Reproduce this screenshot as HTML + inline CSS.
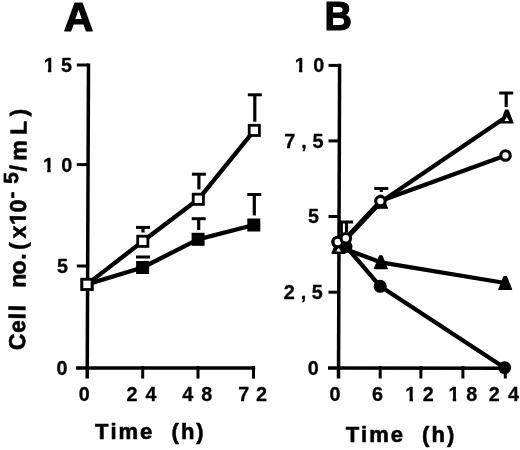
<!DOCTYPE html>
<html><head><meta charset="utf-8"><style>
html,body{margin:0;padding:0;background:#fff;}
svg{display:block;will-change:transform;}
text{font-family:"Liberation Sans",sans-serif;font-weight:bold;fill:#000;stroke:#000;stroke-width:0.6px;stroke-linejoin:round;}
.big{stroke-width:1.2px;}
.tl{stroke-width:0.3px;}
</style></head><body>
<svg width="520" height="450" viewBox="0 0 520 450">
<rect width="520" height="450" fill="#fff"/>
<g stroke="#000" stroke-linecap="butt" fill="none">
<line x1="88.5" y1="63.5" x2="87.2" y2="378.5" stroke-width="3.5"/>
<line x1="76.0" y1="368.1" x2="255.2" y2="367.9" stroke-width="3.5"/>
<line x1="76.8" y1="65.0" x2="88.5" y2="65.0" stroke-width="3.0"/>
<line x1="76.8" y1="164.6" x2="88.5" y2="164.6" stroke-width="3.0"/>
<line x1="76.8" y1="266.0" x2="88.5" y2="266.0" stroke-width="3.0"/>
<line x1="142.7" y1="366" x2="142.7" y2="378.6" stroke-width="3.0"/>
<line x1="198.0" y1="366" x2="198.0" y2="378.6" stroke-width="3.0"/>
<line x1="253.5" y1="366" x2="253.5" y2="378.6" stroke-width="3.0"/>
<line x1="339.6" y1="63.8" x2="338.5" y2="378.4" stroke-width="3.5"/>
<line x1="328.0" y1="367.9" x2="505.5" y2="368.2" stroke-width="3.5"/>
<line x1="328.5" y1="65.4" x2="339.5" y2="65.4" stroke-width="3.0"/>
<line x1="328.5" y1="140.9" x2="339.5" y2="140.9" stroke-width="3.0"/>
<line x1="328.5" y1="216.5" x2="339.5" y2="216.5" stroke-width="3.0"/>
<line x1="328.5" y1="292.2" x2="339.5" y2="292.2" stroke-width="3.0"/>
<line x1="380.2" y1="366" x2="380.2" y2="378.5" stroke-width="3.0"/>
<line x1="420.9" y1="366" x2="420.9" y2="378.5" stroke-width="3.0"/>
<line x1="462.9" y1="366" x2="462.9" y2="378.5" stroke-width="3.0"/>
<line x1="505.3" y1="366" x2="505.3" y2="378.5" stroke-width="3.0"/>
<polyline points="87.0,284.4 142.8,241.3 198.3,199.3 254.3,130.4" fill="none" stroke-width="4.3" stroke-linejoin="round"/>
<polyline points="87.0,284.4 142.6,267.5 198.1,239.3 253.8,225.0" fill="none" stroke-width="4.3" stroke-linejoin="round"/>
<polyline points="337.8,242.0 345.8,238.3 380.4,201.1 505.5,155.5" fill="none" stroke-width="4.3" stroke-linejoin="round"/>
<polyline points="338.6,247.1 381.2,201.8 506.8,116.5" fill="none" stroke-width="4.3" stroke-linejoin="round"/>
<polyline points="338.5,246.6 380.8,262.3 505.2,283.0" fill="none" stroke-width="4.3" stroke-linejoin="round"/>
<polyline points="337.8,242.2 346.0,246.5 380.2,286.3 504.6,367.7" fill="none" stroke-width="4.3" stroke-linejoin="round"/>
<line x1="136.0" y1="227.4" x2="150.0" y2="227.4" stroke-width="3.0"/>
<line x1="143.0" y1="227.4" x2="143.0" y2="232.5" stroke-width="3.2"/>
<line x1="136.0" y1="257.0" x2="150.0" y2="257.0" stroke-width="3.0"/>
<line x1="191.9" y1="174.2" x2="205.9" y2="174.2" stroke-width="3.0"/>
<line x1="198.9" y1="174.2" x2="198.9" y2="189.4" stroke-width="3.2"/>
<line x1="191.7" y1="218.7" x2="205.7" y2="218.7" stroke-width="3.0"/>
<line x1="198.7" y1="218.7" x2="198.7" y2="230.0" stroke-width="3.2"/>
<line x1="247.8" y1="94.8" x2="261.8" y2="94.8" stroke-width="3.0"/>
<line x1="254.8" y1="94.8" x2="254.8" y2="121.7" stroke-width="3.2"/>
<line x1="247.3" y1="194.5" x2="261.3" y2="194.5" stroke-width="3.0"/>
<line x1="254.3" y1="194.5" x2="254.3" y2="215.4" stroke-width="3.2"/>
<line x1="499.2" y1="93.0" x2="513.2" y2="93.0" stroke-width="3.0"/>
<line x1="506.2" y1="93.0" x2="506.2" y2="107.0" stroke-width="3.2"/>
<line x1="374.3" y1="188.5" x2="388.3" y2="188.5" stroke-width="3.0"/>
<line x1="381.3" y1="188.5" x2="381.3" y2="192.0" stroke-width="3.2"/>
<line x1="339.9" y1="222.0" x2="353.1" y2="222.0" stroke-width="3.0"/>
<line x1="346.5" y1="222.0" x2="346.5" y2="232.0" stroke-width="3.2"/>
<line x1="341.6" y1="222" x2="341.6" y2="236" stroke-width="2.6"/>
<rect x="80.50" y="277.90" width="13.0" height="13.0" fill="#000" stroke="none"/>
<rect x="136.10" y="261.00" width="13.0" height="13.0" fill="#000" stroke="none"/>
<rect x="191.60" y="232.80" width="13.0" height="13.0" fill="#000" stroke="none"/>
<rect x="247.30" y="218.50" width="13.0" height="13.0" fill="#000" stroke="none"/>
<rect x="81.90" y="279.30" width="10.20" height="10.20" fill="#fff" stroke-width="2.8"/>
<rect x="137.70" y="236.20" width="10.20" height="10.20" fill="#fff" stroke-width="2.8"/>
<rect x="193.20" y="194.20" width="10.20" height="10.20" fill="#fff" stroke-width="2.8"/>
<rect x="249.20" y="125.30" width="10.20" height="10.20" fill="#fff" stroke-width="2.8"/>
<polygon points="332.10,253.00 344.90,253.00 339.80,240.20 337.20,240.20" fill="#000" stroke="#000" stroke-width="1.2" stroke-linejoin="round"/>
<circle cx="337.8" cy="242.2" r="6.5" fill="#000" stroke="none"/>
<circle cx="346.0" cy="246.5" r="6.5" fill="#000" stroke="none"/>
<polygon points="374.40,268.70 387.20,268.70 382.10,255.90 379.50,255.90" fill="#000" stroke="#000" stroke-width="1.2" stroke-linejoin="round"/>
<polygon points="498.80,289.40 511.60,289.40 506.50,276.60 503.90,276.60" fill="#000" stroke="#000" stroke-width="1.2" stroke-linejoin="round"/>
<circle cx="380.2" cy="286.3" r="6.5" fill="#000" stroke="none"/>
<circle cx="504.6" cy="367.7" r="6.5" fill="#000" stroke="none"/>
<polygon points="332.40,253.50 344.80,253.50 339.90,240.70 337.30,240.70" fill="#000" stroke="#000" stroke-width="1.2" stroke-linejoin="round"/>
<polygon points="336.20,251.50 341.00,251.50 338.60,247.50" fill="#fff" stroke="none"/>
<polygon points="375.00,208.20 387.40,208.20 382.50,195.40 379.90,195.40" fill="#000" stroke="#000" stroke-width="1.2" stroke-linejoin="round"/>
<polygon points="378.80,206.20 383.60,206.20 381.20,202.20" fill="#fff" stroke="none"/>
<polygon points="500.60,122.90 513.00,122.90 508.10,110.10 505.50,110.10" fill="#000" stroke="#000" stroke-width="1.2" stroke-linejoin="round"/>
<polygon points="504.40,120.90 509.20,120.90 506.80,116.90" fill="#fff" stroke="none"/>
<circle cx="337.8" cy="242.0" r="4.75" fill="#fff" stroke-width="3.1"/>
<circle cx="345.8" cy="238.3" r="4.75" fill="#fff" stroke-width="3.1"/>
<circle cx="380.4" cy="201.1" r="4.75" fill="#fff" stroke-width="3.1"/>
<circle cx="505.5" cy="155.5" r="4.75" fill="#fff" stroke-width="3.1"/>
</g>
<text x="63.73" y="30.70" font-size="41" class="big">A</text>
<text x="323.78" y="30.00" font-size="40" class="big" transform="translate(338.65 0) scale(0.95 1) translate(-338.65 0)">B</text>
<text x="43.65" y="71.81" font-size="19.8" class="tl">1</text>
<text x="61.07" y="71.81" font-size="19.8" class="tl">5</text>
<text x="42.95" y="171.71" font-size="19.8" class="tl">1</text>
<text x="61.31" y="171.71" font-size="19.8" class="tl">0</text>
<text x="57.07" y="273.11" font-size="19.8" class="tl">5</text>
<text x="56.51" y="375.31" font-size="19.8" class="tl">0</text>
<text x="294.65" y="71.91" font-size="19.8" class="tl">1</text>
<text x="313.31" y="71.91" font-size="19.8" class="tl">0</text>
<text x="284.30" y="147.71" font-size="19.8" class="tl">7</text>
<text x="301.24" y="147.71" font-size="19.8" class="tl">,</text>
<text x="312.57" y="147.71" font-size="19.8" class="tl">5</text>
<text x="307.97" y="223.41" font-size="19.8" class="tl">5</text>
<text x="283.75" y="299.41" font-size="19.8" class="tl">2</text>
<text x="300.84" y="299.41" font-size="19.8" class="tl">,</text>
<text x="311.87" y="299.41" font-size="19.8" class="tl">5</text>
<text x="307.71" y="375.01" font-size="19.8" class="tl">0</text>
<text x="78.71" y="401.21" font-size="19.8" class="tl">0</text>
<text x="126.45" y="401.21" font-size="19.8" class="tl">2</text>
<text x="145.40" y="401.21" font-size="19.8" class="tl">4</text>
<text x="182.20" y="401.21" font-size="19.8" class="tl">4</text>
<text x="201.18" y="401.21" font-size="19.8" class="tl">8</text>
<text x="238.30" y="401.21" font-size="19.8" class="tl">7</text>
<text x="256.05" y="401.21" font-size="19.8" class="tl">2</text>
<text x="329.61" y="401.41" font-size="19.8" class="tl">0</text>
<text x="371.89" y="401.41" font-size="19.8" class="tl">6</text>
<text x="405.25" y="401.41" font-size="19.8" class="tl">1</text>
<text x="422.85" y="401.41" font-size="19.8" class="tl">2</text>
<text x="448.45" y="401.41" font-size="19.8" class="tl">1</text>
<text x="466.18" y="401.41" font-size="19.8" class="tl">8</text>
<text x="488.85" y="401.41" font-size="19.8" class="tl">2</text>
<text x="508.10" y="401.41" font-size="19.8" class="tl">4</text>
<text x="95.05" y="439.0" font-size="22.0">T</text>
<text x="110.48" y="439.0" font-size="22.0">i</text>
<text x="118.57" y="439.0" font-size="22.0">m</text>
<text x="140.12" y="439.0" font-size="22.0">e</text>
<text x="171.60" y="439.0" font-size="22.0">(</text>
<text x="180.88" y="439.0" font-size="22.0">h</text>
<text x="196.27" y="439.0" font-size="22.0">)</text>
<text x="345.65" y="441.7" font-size="22.0">T</text>
<text x="361.11" y="441.7" font-size="22.0">i</text>
<text x="369.24" y="441.7" font-size="22.0">m</text>
<text x="390.82" y="441.7" font-size="22.0">e</text>
<text x="422.00" y="441.7" font-size="22.0">(</text>
<text x="431.43" y="441.7" font-size="22.0">h</text>
<text x="446.97" y="441.7" font-size="22.0">)</text>
<g transform="translate(25.0,350.0) rotate(-89.63)">
<text x="-0.16" y="0.00" font-size="23.0">C</text>
<text x="17.00" y="0.00" font-size="23.0">e</text>
<text x="30.62" y="0.00" font-size="23.0">l</text>
<text x="38.47" y="0.00" font-size="23.0">l</text>
<text x="62.38" y="0.00" font-size="23.0">n</text>
<text x="75.63" y="0.00" font-size="23.0">o</text>
<text x="90.17" y="0.00" font-size="23.0">.</text>
<text x="100.01" y="0.00" font-size="23.0">(</text>
<text x="111.61" y="0.00" font-size="23.0">x</text>
<text x="124.95" y="0.00" font-size="23.0">1</text>
<rect x="125.30" y="-3.95" width="4.67" height="5.55" fill="#fff"/><rect x="133.83" y="-3.95" width="4.48" height="5.55" fill="#fff"/>
<text x="137.57" y="0.00" font-size="23.0">0</text>
<text x="178.45" y="0.00" font-size="23.0">/</text>
<text x="189.38" y="0.00" font-size="23.0">m</text>
<text x="214.96" y="0.00" font-size="23.0">L</text>
<text x="233.53" y="0.00" font-size="23.0">)</text>
<text x="151.33" y="-8.00" font-size="20">-</text>
<text x="166.27" y="-8.00" font-size="20.5">5</text>
</g>
<rect x="43.80" y="68.19" width="4.12" height="5.22" fill="#fff"/><rect x="51.34" y="68.19" width="3.97" height="5.22" fill="#fff"/>
<rect x="43.10" y="168.09" width="4.12" height="5.22" fill="#fff"/><rect x="50.64" y="168.09" width="3.97" height="5.22" fill="#fff"/>
<rect x="294.80" y="68.29" width="4.12" height="5.22" fill="#fff"/><rect x="302.34" y="68.29" width="3.97" height="5.22" fill="#fff"/>
<rect x="405.40" y="397.79" width="4.12" height="5.22" fill="#fff"/><rect x="412.94" y="397.79" width="3.97" height="5.22" fill="#fff"/>
<rect x="448.60" y="397.79" width="4.12" height="5.22" fill="#fff"/><rect x="456.14" y="397.79" width="3.97" height="5.22" fill="#fff"/>
</svg>
</body></html>
